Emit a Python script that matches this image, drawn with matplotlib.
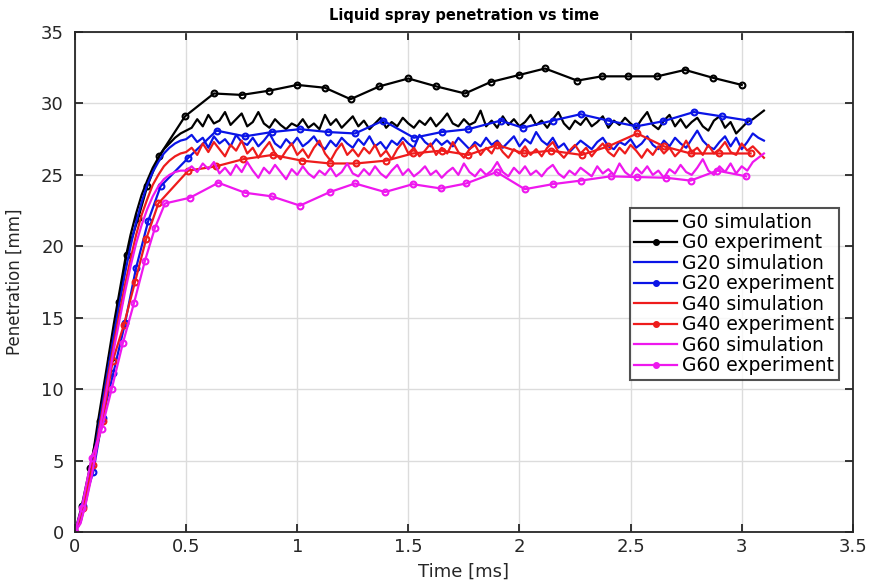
import numpy as np
import matplotlib
matplotlib.use("Agg")
import matplotlib.pyplot as plt

# simulation curves (sampled evenly from 0 to 3.1 ms)
g0_sim = [0, 0.8, 2.6, 4.8, 7.4, 9.8, 12.2, 14.6, 16.8, 19.0, 20.8, 22.3, 23.6, 24.6, 25.5, 26.2,
          26.8, 27.2, 27.6, 27.9, 28.1,
          28.3, 28.9, 28.4, 29.2, 28.6, 28.8, 29.4, 28.5, 28.9, 29.3, 28.4, 28.7, 29.4, 28.6, 28.3,
          28.9, 28.5, 28.2, 28.6, 28.4, 28.9, 28.3, 28.6, 28.2, 29.2, 28.5, 28.9, 28.3, 28.7, 29.1,
          28.4, 28.8, 28.2, 28.6, 29.0, 28.3, 28.7, 28.4, 29.0, 28.6, 28.3, 28.8, 28.5, 29.0, 28.4,
          28.8, 29.3, 28.6, 28.4, 28.9, 28.5, 28.7, 29.5, 28.4, 28.8, 28.3, 29.1, 28.5, 28.9, 28.4,
          28.7, 29.2, 28.5, 28.8, 28.3, 28.9, 29.4, 28.6, 28.2, 28.8, 28.5, 29.0, 28.4, 28.7, 29.1,
          28.3, 28.8, 28.5, 29.0, 28.6, 28.3, 28.9, 29.4, 28.5, 28.2, 28.8, 29.2, 28.4, 28.9, 28.3,
          28.7, 29.0, 28.4, 28.1, 28.8, 29.1, 28.3, 28.7, 27.9, 28.3, 28.7, 28.9, 29.2, 29.5]
g20_sim = [0, 0.7, 2.3, 4.3, 6.7, 9.1, 11.5, 13.8, 16.0, 18.1, 20.0, 21.7, 23.1, 24.3, 25.2, 25.9,
           26.5, 26.9, 27.2, 27.4, 27.5,
           27.8, 27.3, 27.6, 26.9, 27.7, 27.2, 27.5, 27.0, 27.8, 27.3, 27.1, 27.6, 27.0, 27.4, 27.9,
           27.2, 26.9, 27.5, 27.1, 27.6, 27.0, 27.3, 27.7, 27.1, 26.8, 27.4, 27.0, 27.6, 27.2, 26.9,
           27.5, 27.1, 27.7, 27.0, 27.3, 26.8, 27.4, 27.1, 27.6, 27.2, 26.9, 27.8, 27.3, 27.0, 27.5,
           27.1, 27.4, 27.0, 27.6, 27.2, 26.8, 27.3, 27.0, 27.6, 27.1, 27.4, 26.9, 27.3, 27.7, 27.0,
           27.5, 27.2, 28.0, 27.4, 27.1, 27.6, 26.9, 27.2, 26.6, 27.0, 27.4, 27.1, 26.8, 27.3, 27.6,
           27.0, 26.8, 27.3, 27.1, 27.5, 26.9, 27.2, 27.7, 27.1, 26.8, 27.4, 27.0, 27.6, 27.2, 26.9,
           27.5, 28.1, 27.4, 27.0, 26.8, 27.3, 27.7, 27.0, 27.6, 26.8, 27.3, 27.9, 27.6, 27.4]
g40_sim = [0, 0.7, 2.2, 4.1, 6.4, 8.7, 11.0, 13.2, 15.3, 17.3, 19.1, 20.8, 22.2, 23.3, 24.3, 25.0,
           25.6, 26.0, 26.3, 26.5, 26.6,
           26.9, 26.4, 27.2, 26.6, 27.3, 26.8, 26.3, 27.1, 26.7, 27.4, 26.5, 26.9, 26.2, 26.8, 27.3,
           26.5, 26.1, 26.7, 27.2, 26.4, 26.8, 26.2, 26.9, 27.4, 26.5, 26.0, 26.7, 27.2, 26.4, 26.8,
           26.3, 26.9, 26.5, 27.1, 26.3, 26.7, 26.1, 26.8, 27.3, 26.5, 26.9, 26.3, 26.7, 27.2, 26.4,
           26.9, 26.5, 27.3, 26.6, 26.2, 26.8, 27.1, 26.4, 26.9, 26.5, 27.2, 26.6, 26.2, 26.8, 26.5,
           27.0, 26.4, 26.8, 26.3, 26.9, 27.3, 26.6, 26.2, 26.7, 27.1, 26.5, 26.9, 26.3, 26.8, 27.2,
           26.6, 26.3, 26.9, 26.5, 27.1, 26.7, 26.2, 26.8, 26.4, 27.0, 26.5, 26.9, 26.3, 26.7, 27.4,
           26.6, 26.9, 26.4, 27.1, 26.5, 26.8, 27.3, 26.6, 26.4, 27.2, 26.7, 27.0, 26.6, 26.2]
g60_sim = [0, 0.6, 2.1, 3.9, 6.1, 8.4, 10.6, 12.8, 14.8, 16.8, 18.6, 20.2, 21.5, 22.6, 23.5, 24.2,
           24.7, 25.0, 25.2, 25.3, 25.3,
           25.6, 25.2, 25.8, 25.4, 25.9, 25.1, 25.5, 25.0, 25.7, 25.2, 25.9, 25.3, 24.8, 25.5, 25.1,
           25.7, 25.2, 24.7, 25.4, 25.0, 25.6, 25.1, 24.8, 25.3, 25.0, 25.5, 24.9, 25.2, 25.8, 25.1,
           24.9, 25.4, 25.0, 25.6, 25.1, 24.8, 25.3, 25.7, 25.0, 25.4, 24.9, 25.2, 25.6, 25.0, 25.3,
           24.8, 25.2, 25.5, 25.0, 25.8, 25.2, 24.9, 25.4, 25.0, 25.3, 25.9, 25.2, 24.9, 25.5, 25.1,
           25.6, 25.0, 25.3, 24.9, 25.4, 25.7, 25.1, 24.8, 25.3, 25.0, 25.5, 25.2, 24.9, 25.6, 25.1,
           25.4, 25.0, 25.8, 25.2, 24.9, 25.5, 25.1, 25.6, 25.0, 25.3, 24.8, 25.4, 25.1, 25.7, 25.2,
           25.0, 25.5, 26.1, 25.3, 25.0, 25.6, 25.2, 25.8, 25.1, 25.6, 25.3, 25.9, 26.2, 26.5]

# experiment points
g0_exp_t = [0, 0.03, 0.067, 0.112, 0.16, 0.197, 0.232, 0.285, 0.325, 0.378, 0.495, 0.625, 0.75,
            0.875, 1.0, 1.125, 1.24, 1.37, 1.5, 1.625, 1.755, 1.87, 2.0, 2.115, 2.26, 2.37, 2.49,
            2.62, 2.745, 2.87, 3.0]
g0_exp = [0, 1.8, 4.5, 7.8, 12.2, 16.1, 19.4, 22.0, 24.2, 26.3, 29.1, 30.7, 30.6, 30.9, 31.3,
          31.1, 30.3, 31.2, 31.75, 31.2, 30.7, 31.5, 32.0, 32.45, 31.6, 31.9, 31.9, 31.9, 32.35,
          31.8, 31.3]
g20_exp_t = [0, 0.035, 0.082, 0.124, 0.172, 0.225, 0.275, 0.33, 0.385, 0.51, 0.637, 0.765, 0.886,
             1.012, 1.14, 1.26, 1.387, 1.525, 1.65, 1.77, 1.915, 2.015, 2.149, 2.275, 2.40, 2.526,
             2.645, 2.785, 2.91, 3.03]
g20_exp = [0, 1.8, 4.2, 8.0, 11.1, 14.6, 18.5, 21.8, 24.2, 26.2, 28.1, 27.7, 28.0, 28.2, 28.0,
           27.9, 28.8, 27.6, 28.0, 28.2, 28.8, 28.3, 28.8, 29.25, 28.8, 28.4, 28.75, 29.4, 29.1, 28.8]
g40_exp_t = [0, 0.035, 0.08, 0.125, 0.17, 0.22, 0.27, 0.32, 0.375, 0.51, 0.635, 0.757, 0.89,
             1.02, 1.147, 1.264, 1.40, 1.52, 1.65, 1.77, 1.90, 2.02, 2.14, 2.28, 2.40, 2.53, 2.65,
             2.77, 2.90, 3.04]
g40_exp = [0, 1.7, 4.7, 7.8, 12.0, 14.5, 17.5, 20.5, 23.0, 25.3, 25.6, 26.1, 26.4, 26.0, 25.8,
           25.8, 26.0, 26.5, 26.7, 26.4, 27.1, 26.5, 26.7, 26.4, 27.0, 27.9, 27.0, 26.5, 26.5, 26.5]
g60_exp_t = [0, 0.03, 0.075, 0.12, 0.165, 0.215, 0.265, 0.315, 0.36, 0.405, 0.517, 0.645, 0.765,
             0.885, 1.012, 1.147, 1.26, 1.395, 1.52, 1.646, 1.76, 1.897, 2.024, 2.149, 2.275, 2.41,
             2.53, 2.66, 2.77, 2.89, 3.02]
g60_exp = [0, 1.7, 5.2, 7.2, 10.0, 13.2, 16.0, 19.0, 21.3, 23.0, 23.4, 24.45, 23.75, 23.5, 22.85,
           23.8, 24.4, 23.8, 24.35, 24.05, 24.4, 25.2, 24.0, 24.35, 24.6, 24.9, 24.85, 24.8, 24.6,
           25.3, 24.9]

colors = {"G0": "black", "G20": "#0a14e6", "G40": "#ee1c1c", "G60": "#ee18ee"}

fig = plt.figure(figsize=(8.72, 5.83), dpi=100)
ax = fig.add_axes([0.086, 0.0875, 0.892, 0.8575])

runs = [("G0", g0_sim, g0_exp_t, g0_exp),
        ("G20", g20_sim, g20_exp_t, g20_exp),
        ("G40", g40_sim, g40_exp_t, g40_exp),
        ("G60", g60_sim, g60_exp_t, g60_exp)]

for name, sim, exp_t, exp in runs:
    c = colors[name]
    t_sim = np.linspace(0, 3.1, len(sim))
    ax.plot(t_sim, sim, color=c, lw=1.6, label=f"{name} simulation")
    ax.plot(exp_t, exp, color=c, lw=1.6, marker="o", ms=4.2, mfc="none", mew=1.5,
            label=f"{name} experiment")

ax.set_xlim(0, 3.5)
ax.set_ylim(0, 35)
ax.set_xticks(np.arange(0, 3.51, 0.5))
ax.set_xticklabels(["0", "0.5", "1", "1.5", "2", "2.5", "3", "3.5"])
ax.set_yticks(np.arange(0, 36, 5))
ax.grid(True, color="#dcdcdc", lw=1.0)
ax.set_axisbelow(True)
ax.tick_params(direction="in", length=6, width=1.3, top=True, right=True, labelsize=13,
               colors="#262626")
ax.tick_params(axis="x", pad=4)
ax.tick_params(axis="y", pad=8)
for s in ax.spines.values():
    s.set_linewidth(1.3)
    s.set_color("#262626")

ax.set_title("Liquid spray penetration vs time", fontsize=10.5, fontweight="bold", pad=9)
ax.set_xlabel("Time [ms]", fontsize=13, labelpad=5, color="#262626")
ax.set_ylabel("Penetration [mm]", fontsize=12, labelpad=12, color="#262626")

leg = ax.legend(loc="upper left", bbox_to_anchor=(0.713, 0.648), fontsize=13.5, frameon=True,
                fancybox=False, edgecolor="#262626", handlelength=2.3, borderpad=0.25,
                labelspacing=0.08, handletextpad=0.25, borderaxespad=0)
leg.get_frame().set_linewidth(1.5)
for h in leg.get_lines():
    h.set_markerfacecolor(h.get_color())
    h.set_markersize(3.5)

fig.savefig("out.png", dpi=100)
